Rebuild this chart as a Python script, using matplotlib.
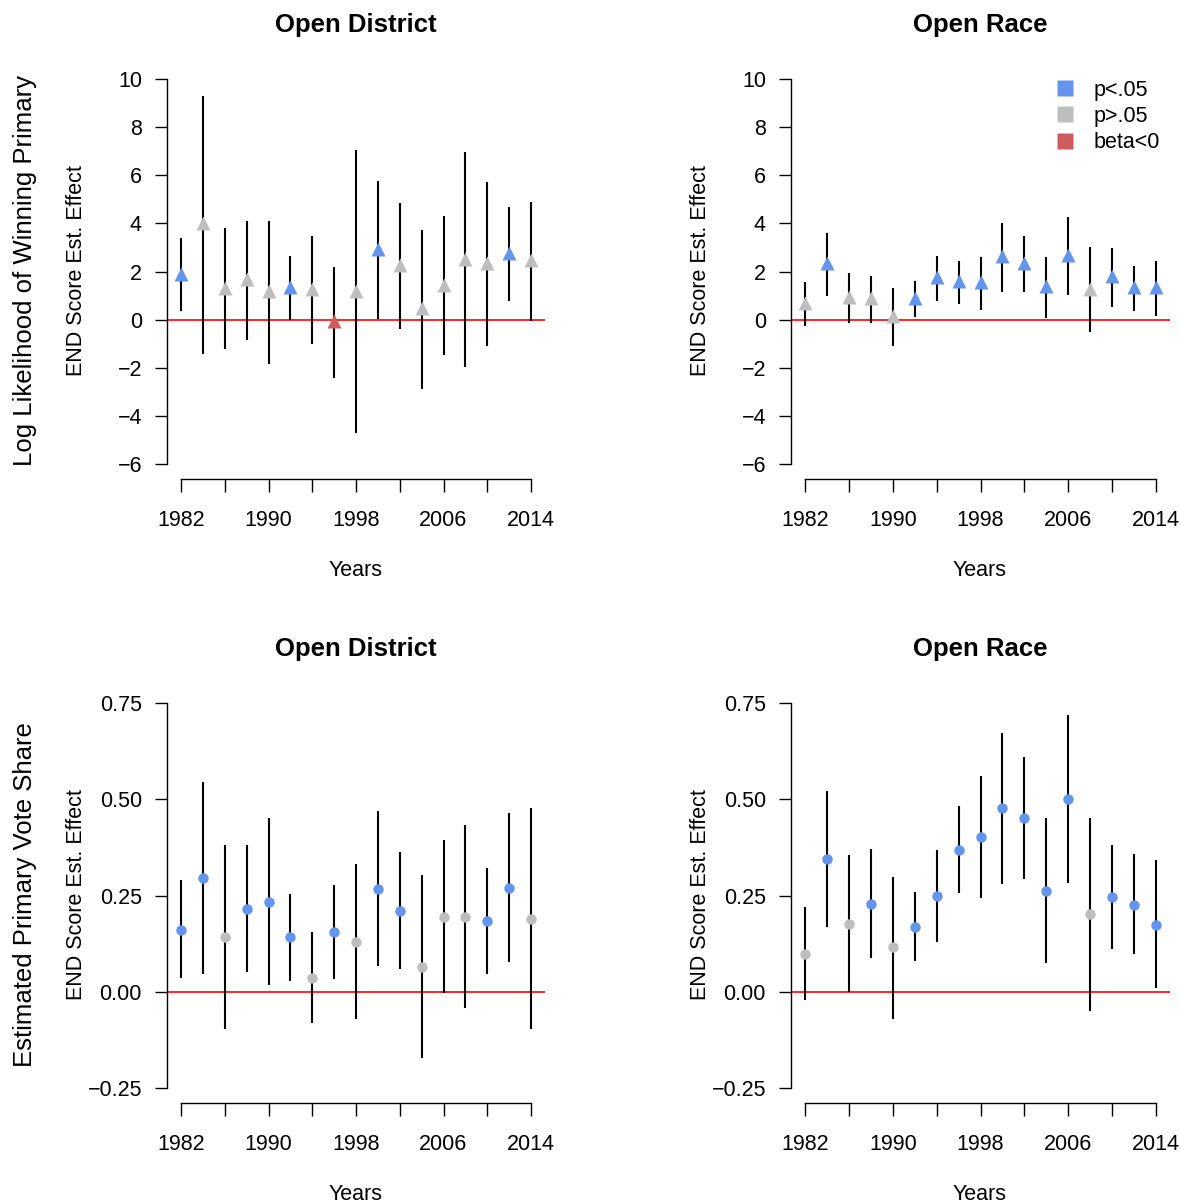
import numpy as np
import matplotlib
matplotlib.use("Agg")
import matplotlib.pyplot as plt
from matplotlib.lines import Line2D

plt.rcParams['font.family'] = ['Liberation Sans', 'DejaVu Sans']

W, H = 1181, 1203

years = np.arange(1982, 2015, 2)
tick_years = np.arange(1982, 2015, 4)
tick_labels = ['1982', '', '1990', '', '1998', '', '2006', '', '2014']

BLUE = '#6495ED'
GREY = '#BEBEBE'
RED = '#CD5C5C'

# log likelihood, open district
ll_dist_est = [1.9, 4.0, 1.31, 1.67, 1.18, 1.34, 1.27, -0.07, 1.18, 2.92, 2.27, 0.47, 1.42, 2.54, 2.35, 2.77, 2.46]
ll_dist_hi = [3.4, 9.3, 3.82, 4.1, 4.1, 2.63, 3.46, 2.2, 7.03, 5.77, 4.83, 3.73, 4.29, 6.98, 5.71, 4.69, 4.88]
ll_dist_lo = [0.36, -1.41, -1.23, -0.83, -1.84, 0.0, -1.0, -2.41, -4.73, 0.03, -0.39, -2.89, -1.48, -1.98, -1.09, 0.76, -0.05]
ll_dist_col = ['b', 'g', 'g', 'g', 'g', 'b', 'g', 'r', 'g', 'b', 'g', 'g', 'g', 'g', 'g', 'b', 'g']

# log likelihood, open race
ll_race_est = [0.7, 2.37, 0.94, 0.9, 0.15, 0.9, 1.76, 1.6, 1.55, 2.63, 2.37, 1.38, 2.67, 1.29, 1.8, 1.34, 1.34]
ll_race_hi = [1.56, 3.58, 1.95, 1.83, 1.33, 1.6, 2.66, 2.43, 2.61, 4.02, 3.49, 2.61, 4.25, 3.03, 2.96, 2.24, 2.43]
ll_race_lo = [-0.28, 1.0, -0.14, -0.14, -1.09, 0.11, 0.76, 0.65, 0.4, 1.15, 1.16, 0.08, 1.02, -0.53, 0.54, 0.36, 0.15]
ll_race_col = ['g', 'b', 'g', 'g', 'g', 'b', 'b', 'b', 'b', 'b', 'b', 'b', 'b', 'g', 'b', 'b', 'b']

# vote share, open district
vs_dist_est = [0.161, 0.296, 0.143, 0.216, 0.234, 0.141, 0.037, 0.156, 0.130, 0.268, 0.211, 0.063, 0.195, 0.195, 0.185, 0.270, 0.190]
vs_dist_hi = [0.289, 0.545, 0.381, 0.381, 0.452, 0.253, 0.154, 0.277, 0.331, 0.469, 0.362, 0.302, 0.394, 0.432, 0.322, 0.463, 0.478]
vs_dist_lo = [0.036, 0.046, -0.096, 0.051, 0.017, 0.028, -0.081, 0.034, -0.070, 0.067, 0.060, -0.173, -0.004, -0.041, 0.047, 0.076, -0.098]
vs_dist_col = ['b', 'b', 'g', 'b', 'b', 'b', 'g', 'b', 'g', 'b', 'b', 'g', 'g', 'g', 'b', 'b', 'g']

# vote share, open race
vs_race_est = [0.099, 0.345, 0.177, 0.229, 0.115, 0.169, 0.249, 0.369, 0.402, 0.477, 0.451, 0.262, 0.501, 0.201, 0.247, 0.226, 0.174]
vs_race_hi = [0.221, 0.521, 0.355, 0.371, 0.299, 0.258, 0.368, 0.482, 0.560, 0.672, 0.609, 0.452, 0.718, 0.452, 0.381, 0.358, 0.341]
vs_race_lo = [-0.022, 0.168, 0.0, 0.088, -0.070, 0.079, 0.129, 0.256, 0.244, 0.280, 0.293, 0.075, 0.283, -0.050, 0.111, 0.097, 0.009]
vs_race_col = ['g', 'b', 'g', 'b', 'g', 'b', 'b', 'b', 'b', 'b', 'b', 'b', 'b', 'g', 'b', 'b', 'b']

cmap = {'b': BLUE, 'g': GREY, 'r': RED}

fig = plt.figure(figsize=(W / 100, H / 100), dpi=100)


def ftext(x, y, s, **kw):
    # place text by pixel position (from top-left)
    return fig.text(x / W, 1 - y / H, s, ha='center', va='center', **kw)


def px_axes(left, right, top, bottom):
    return fig.add_axes([left / W, 1 - bottom / H, (right - left) / W, (bottom - top) / H])


def panel(ax, est, lo, hi, cols, marker, ms, ymin, ymax, yticks, yfmt):
    # R-style: 4% padding, axis lines only over the tick range
    pad_x = 0.04 * (2014 - 1982)
    pad_y = 0.04 * (ymax - ymin)
    ax.set_xlim(1982 - pad_x, 2014 + pad_x)
    ax.set_ylim(ymin - pad_y, ymax + pad_y)
    ax.axhline(0, color='red', lw=1.2, zorder=1)
    ax.vlines(years, lo, hi, color='black', lw=1.5, zorder=2)
    for x, y, c in zip(years, est, cols):
        ax.plot(x, y, marker=marker, ms=ms, color=cmap[c], mec='none', zorder=3)
    for s in ['top', 'right']:
        ax.spines[s].set_visible(False)
    ax.spines['left'].set_bounds(ymin, ymax)
    ax.spines['bottom'].set_bounds(1982, 2014)
    for s in ['left', 'bottom']:
        ax.spines[s].set_linewidth(1.0)
    ax.set_yticks(yticks)
    ax.set_yticklabels([yfmt(v).replace('-', '\u2212') for v in yticks])
    ax.set_xticks(tick_years)
    ax.set_xticklabels(tick_labels)
    ax.tick_params(axis='y', length=9, width=1.0, pad=9, labelsize=15.5)
    ax.tick_params(axis='x', length=9, width=1.0, pad=13, labelsize=15.5)


ll_ticks = [-6, -4, -2, 0, 2, 4, 6, 8, 10]
vs_ticks = [-0.25, 0.0, 0.25, 0.5, 0.75]

ax1 = px_axes(167, 545, 63.6, 479.4)
panel(ax1, ll_dist_est, ll_dist_lo, ll_dist_hi, ll_dist_col, '^', 9.5, -6, 10,
      ll_ticks, lambda v: f'{v:d}')
ax2 = px_axes(791, 1170, 63.6, 479.4)
panel(ax2, ll_race_est, ll_race_lo, ll_race_hi, ll_race_col, '^', 9.5, -6, 10,
      ll_ticks, lambda v: f'{v:d}')
ax3 = px_axes(167, 545, 687.6, 1103.4)
panel(ax3, vs_dist_est, vs_dist_lo, vs_dist_hi, vs_dist_col, 'o', 7.5, -0.25, 0.75,
      vs_ticks, lambda v: f'{v:.2f}')
ax4 = px_axes(791, 1170, 687.6, 1103.4)
panel(ax4, vs_race_est, vs_race_lo, vs_race_hi, vs_race_col, 'o', 7.5, -0.25, 0.75,
      vs_ticks, lambda v: f'{v:.2f}')

# titles and axis labels at fixed positions
for cx, title in [(356, 'Open District'), (980, 'Open Race')]:
    ftext(cx, 25, title, fontsize=18.5, fontweight='bold')
    ftext(cx, 649, title, fontsize=18.5, fontweight='bold')
    ftext(cx, 571, 'Years', fontsize=15.5)
    ftext(cx, 1194, 'Years', fontsize=15.5)
for lx in [77, 701]:
    ftext(lx, 271, 'END Score Est. Effect', fontsize=15.5, rotation=90)
    ftext(lx, 895, 'END Score Est. Effect', fontsize=15.5, rotation=90)

ftext(25, 271, 'Log Likelihood of Winning Primary', rotation=90, fontsize=18.5)
ftext(25, 895, 'Estimated Primary Vote Share', rotation=90, fontsize=18.5)

handles = [Line2D([], [], marker='s', ls='', color=c, mec='none', ms=11.5)
           for c in [BLUE, GREY, RED]]
ax2.legend(handles, ['p<.05', 'p>.05', 'beta<0'], loc='upper left',
           bbox_to_anchor=(1040 / W, 1 - 71 / H), bbox_transform=fig.transFigure,
           frameon=False, fontsize=15.5, handletextpad=0.6, labelspacing=0.25,
           handlelength=1.5, borderaxespad=0)

fig.savefig('out.png', dpi=100)
